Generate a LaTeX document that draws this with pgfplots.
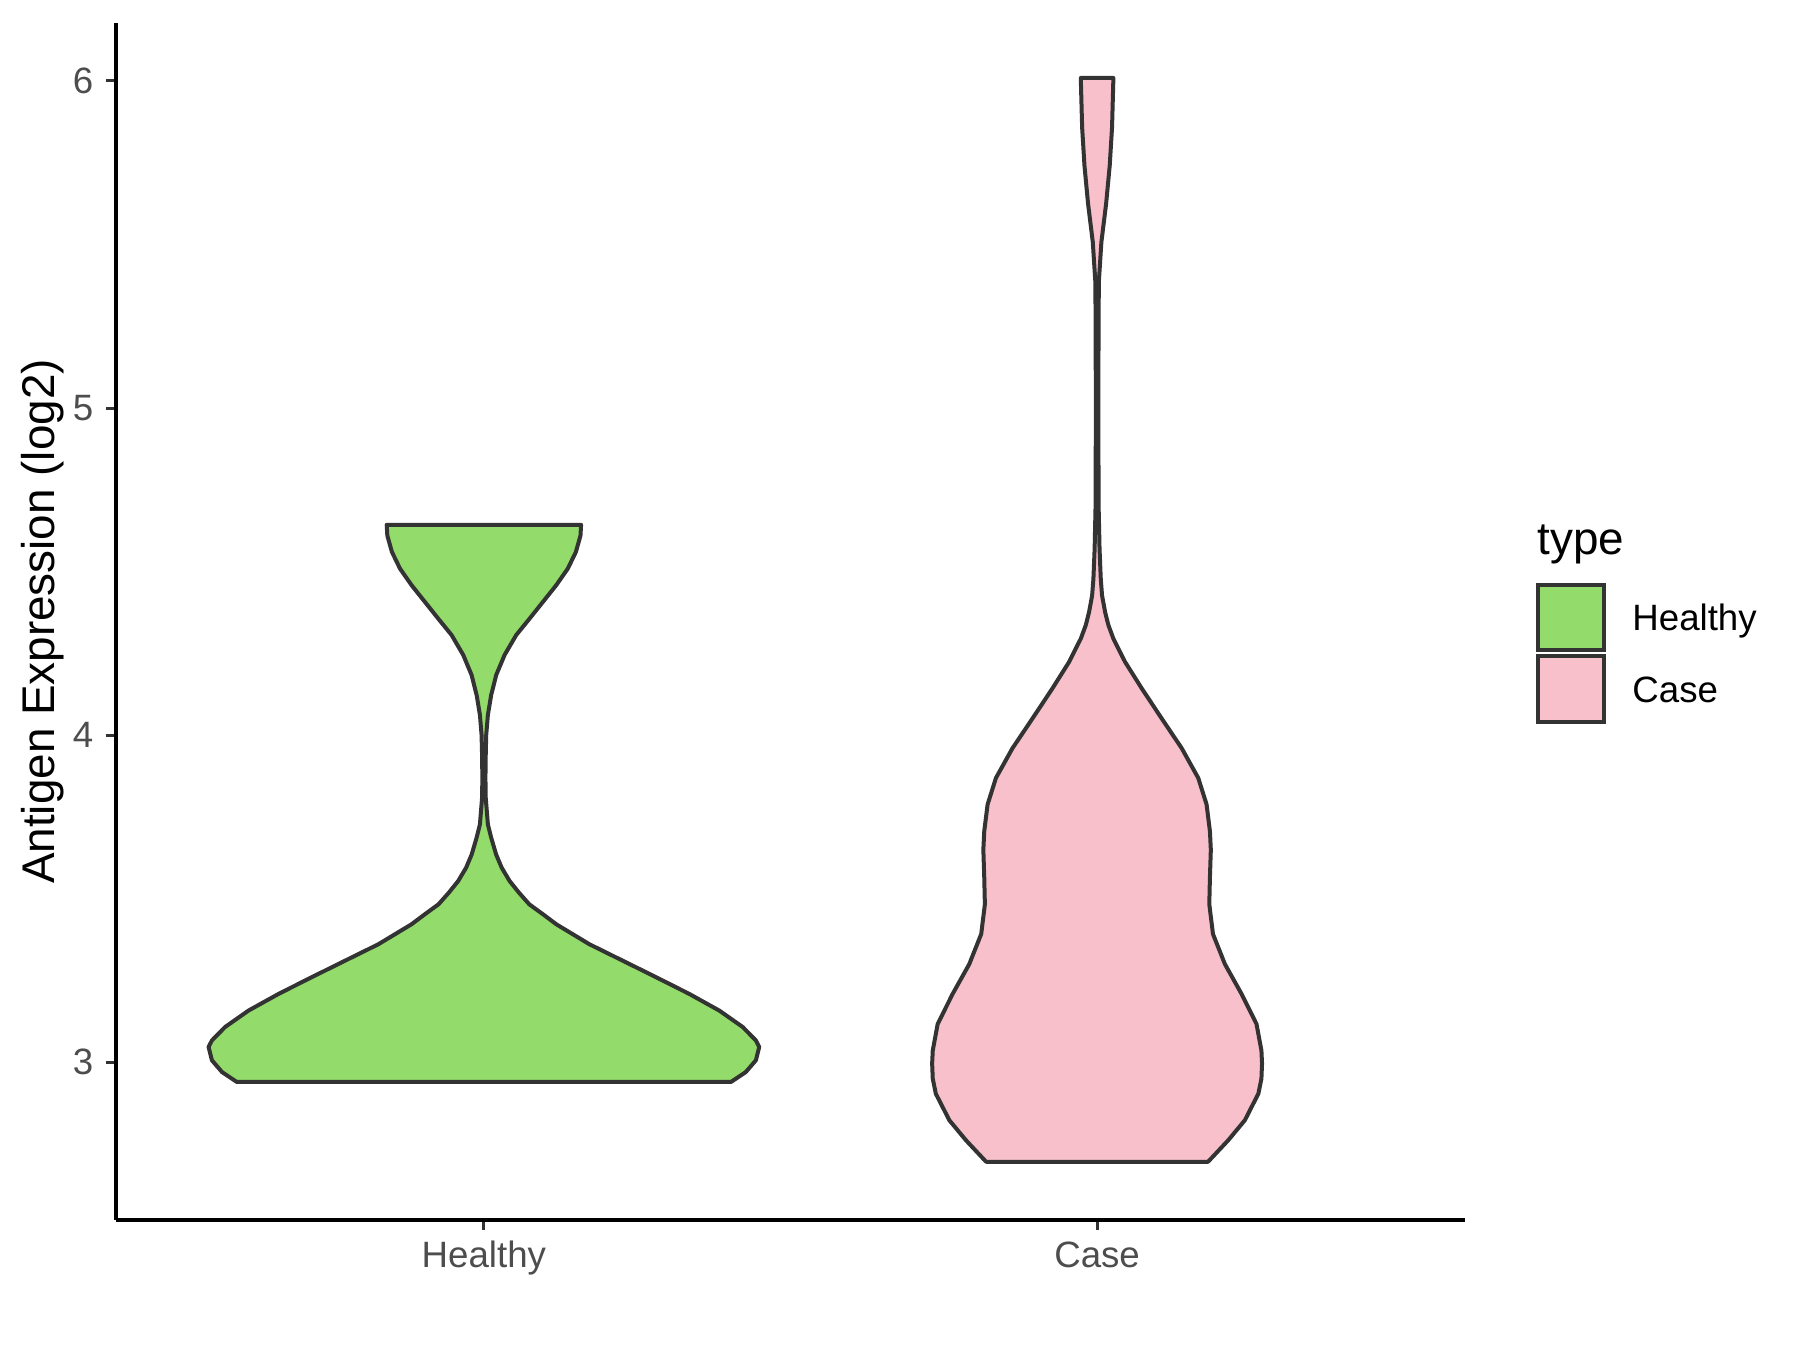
\documentclass[border=0pt]{standalone}
\usepackage{pgfplots}
\pgfplotsset{compat=1.18}
\usepackage{pgfplotstable}
\usepackage{fontspec}
\setmainfont{Liberation Sans}

\definecolor{healthyfill}{HTML}{93DB6A}
\definecolor{casefill}{HTML}{F7C0CB}
\definecolor{outlinegray}{HTML}{333333}
\definecolor{ticktext}{HTML}{4D4D4D}

% violin outlines: x = group position +- half width, y = expression
\pgfplotstableread{
x y
1.403 2.940
1.427 2.970
1.4435 3.006
1.449 3.047
1.4435 3.067
1.422 3.108
1.384 3.158
1.335 3.209
1.281 3.260
1.226 3.311
1.172 3.361
1.118 3.422
1.096 3.453
1.074 3.483
1.057 3.519
1.042 3.554
1.029 3.595
1.020 3.635
1.012 3.686
1.0065 3.727
1.003 3.808
1.0025 3.869
1.003 3.940
1.0038 4.001
1.0065 4.062
1.0119 4.123
1.0201 4.184
1.0337 4.245
1.0527 4.306
1.0744 4.356
1.0961 4.407
1.1178 4.458
1.1368 4.509
1.150 4.560
1.1575 4.610
1.1585 4.643
0.8415 4.643
0.8425 4.610
0.850 4.560
0.8632 4.509
0.8822 4.458
0.9039 4.407
0.9256 4.356
0.9473 4.306
0.9663 4.245
0.9799 4.184
0.9881 4.123
0.9935 4.062
0.9962 4.001
0.997 3.940
0.9975 3.869
0.997 3.808
0.9935 3.727
0.988 3.686
0.980 3.635
0.971 3.595
0.958 3.554
0.943 3.519
0.926 3.483
0.904 3.453
0.882 3.422
0.828 3.361
0.774 3.311
0.719 3.260
0.665 3.209
0.616 3.158
0.578 3.108
0.5565 3.067
0.551 3.047
0.5565 3.006
0.573 2.970
0.597 2.940
}\healthy

\pgfplotstableread{
x y
2.181 2.696
2.214 2.762
2.241 2.823
2.263 2.904
2.268 2.950
2.269 2.996
2.268 3.036
2.260 3.117
2.2356 3.209
2.2085 3.300
2.189 3.392
2.183 3.483
2.184 3.564
2.1855 3.650
2.184 3.707
2.1786 3.788
2.165 3.869
2.138 3.960
2.105 4.052
2.0728 4.143
2.0456 4.224
2.0266 4.295
2.0185 4.336
2.013 4.377
2.0081 4.427
2.006 4.478
2.004 4.570
2.0025 4.700
2.002 5.000
2.0025 5.300
2.003 5.390
2.007 5.507
2.0147 5.624
2.0206 5.741
2.0244 5.858
2.0266 6.009
1.9734 6.009
1.9756 5.858
1.9794 5.741
1.9853 5.624
1.993 5.507
1.997 5.390
1.9975 5.300
1.998 5.000
1.9975 4.700
1.996 4.570
1.994 4.478
1.9919 4.427
1.987 4.377
1.9815 4.336
1.9734 4.295
1.9544 4.224
1.9272 4.143
1.895 4.052
1.862 3.960
1.835 3.869
1.8214 3.788
1.816 3.707
1.8145 3.650
1.816 3.564
1.817 3.483
1.811 3.392
1.7915 3.300
1.7644 3.209
1.740 3.117
1.732 3.036
1.731 2.996
1.732 2.950
1.737 2.904
1.759 2.823
1.786 2.762
1.819 2.696
}\case

\begin{document}
\begin{tikzpicture}
\begin{axis}[
    width=404.7pt,
    height=359.1pt,
    scale only axis,
    clip=false,
    xmin=0.4, xmax=2.6,
    ymin=2.518, ymax=6.177,
    axis x line*=bottom,
    axis y line*=left,
    axis line style={-, line width=1.1pt, black},
    xtick={1,2},
    xticklabels={Healthy,Case},
    ytick={3,4,5,6},
    tick align=outside,
    major tick length=3pt,
    tick style={line width=0.9pt, outlinegray},
    /pgf/number format/assume math mode=true,
    tick label style={font=\fontsize{11}{13}\selectfont, text=ticktext},
    yticklabel style={anchor=east, inner sep=0pt, xshift=-3.6pt},
    xticklabel style={anchor=base, inner sep=0pt, yshift=-11.4pt},
    ylabel={Antigen Expression (log2)},
    ylabel style={font=\fontsize{13.75}{16}\selectfont, at={(rel axis cs:-0.0545,0.5)}, anchor=center},
]
\addplot[fill=healthyfill, draw=outlinegray, line width=1.2pt, line join=round] table[x=x, y=y] {\healthy} -- cycle;
\addplot[fill=casefill, draw=outlinegray, line width=1.2pt, line join=round] table[x=x, y=y] {\case} -- cycle;

% legend
\node[anchor=base west, inner sep=0pt, font=\fontsize{13.75}{16}\selectfont] at (rel axis cs:1.0532,0.5556) {type};
\draw[outlinegray, line width=1.2pt, fill=healthyfill] (rel axis cs:1.0541,0.4762) rectangle (rel axis cs:1.1030,0.5305);
\draw[outlinegray, line width=1.2pt, fill=casefill] (rel axis cs:1.0541,0.4162) rectangle (rel axis cs:1.1030,0.4708);
\node[anchor=base west, inner sep=0pt, font=\fontsize{11}{13}\selectfont] at (rel axis cs:1.1236,0.4923) {Healthy};
\node[anchor=base west, inner sep=0pt, font=\fontsize{11}{13}\selectfont] at (rel axis cs:1.1236,0.4325) {Case};

\coordinate (BL) at (rel axis cs:-0.08599,-0.10860);
\coordinate (TR) at (rel axis cs:1.24833,1.019215);
\end{axis}
\pgfresetboundingbox
\path (BL) rectangle (TR);
\end{tikzpicture}
\end{document}
